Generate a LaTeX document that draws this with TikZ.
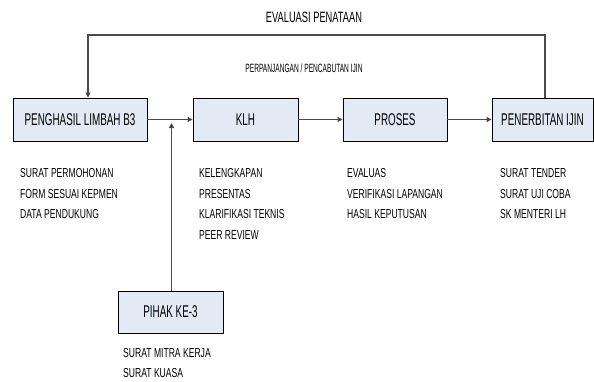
\documentclass[tikz,border=0pt]{standalone}
\usepackage{fontspec}
\setmainfont{Liberation Sans}
\newfontfamily\boxfont[FakeStretch=0.58]{Liberation Sans}
\newfontfamily\titlefont[FakeStretch=0.62]{Liberation Sans}
\newfontfamily\listfont[FakeStretch=0.66]{Liberation Sans}
\newfontfamily\midfont[FakeStretch=0.55]{Liberation Sans}
\usetikzlibrary{arrows.meta}
\definecolor{boxfill}{HTML}{E3EAF6}
\definecolor{linegray}{HTML}{4A4A4A}
\definecolor{txt}{HTML}{000000}
\tikzset{
  procbox/.style={draw=black, line width=0.9pt, fill=boxfill, minimum height=43pt,
    inner sep=0pt, font=\boxfont\fontsize{17}{17}\selectfont, text=txt},
  conn/.style={draw=linegray, line width=1.3pt, -{Triangle[length=5pt,width=5pt,fill=black]}},
  listitem/.style={anchor=west, inner sep=0pt, font=\listfont\fontsize{13}{13}\selectfont, text=txt},
}
\begin{document}
\begin{tikzpicture}[x=1pt,y=-1pt]
\useasboundingbox (0,0) rectangle (594,381);
% boxes
\node[procbox, minimum width=134pt] (a) at (80,119.5) {PENGHASIL LIMBAH B3};
\node[procbox, minimum width=105pt] (b) at (245.5,119.5) {KLH};
\node[procbox, minimum width=104pt] (c) at (395,119.5) {PROSES};
\node[procbox, minimum width=101pt] (d) at (542.5,119.5) {PENERBITAN IJIN};
\node[procbox, minimum width=105pt, minimum height=42pt] (e) at (170.5,312) {PIHAK KE-3};
% labels
\node[inner sep=0pt, font=\titlefont\fontsize{15}{15}\selectfont, text=txt] (t1) at (314,17.5) {EVALUASI PENATAAN};
\node[inner sep=0pt, font=\midfont\fontsize{12}{12}\selectfont, text=txt] (t2) at (304,68.5) {PERPANJANGAN / PENCABUTAN IJIN};
% connectors
\coordinate (ftr) at (545,35);
\coordinate (ftl) at (88,35);
\draw[conn] ([xshift=2.5pt]d.north) -- (ftr) -- (ftl) -- ([xshift=8pt]a.north);
\draw[conn] (a) -- (b);
\draw[conn] (b) -- (c);
\draw[conn] (c) -- (d);
\coordinate (j) at (171.5,123);
\draw[conn] ([xshift=1pt]e.north) -- (j);
% lists
\node[listitem] (l1) at (20,173.5) {SURAT PERMOHONAN};
\node[listitem] (l2) at (20,194) {FORM SESUAI KEPMEN};
\node[listitem] (l3) at (20,214.5) {DATA PENDUKUNG};
\node[listitem] (k1) at (199,173.5) {KELENGKAPAN};
\node[listitem] (k2) at (199,194) {PRESENTAS};
\node[listitem] (k3) at (199,214.5) {KLARIFIKASI TEKNIS};
\node[listitem] (k4) at (199,235) {PEER REVIEW};
\node[listitem] (p1) at (347,173.5) {EVALUAS};
\node[listitem] (p2) at (347,194) {VERIFIKASI LAPANGAN};
\node[listitem] (p3) at (347,214.5) {HASIL KEPUTUSAN};
\node[listitem] (s1) at (500,173.5) {SURAT TENDER};
\node[listitem] (s2) at (500,194) {SURAT UJI COBA};
\node[listitem] (s3) at (500,214.5) {SK MENTERI LH};
\node[listitem] (m1) at (123,353) {SURAT MITRA KERJA};
\node[listitem] (m2) at (123,373) {SURAT KUASA};
\end{tikzpicture}
\end{document}
